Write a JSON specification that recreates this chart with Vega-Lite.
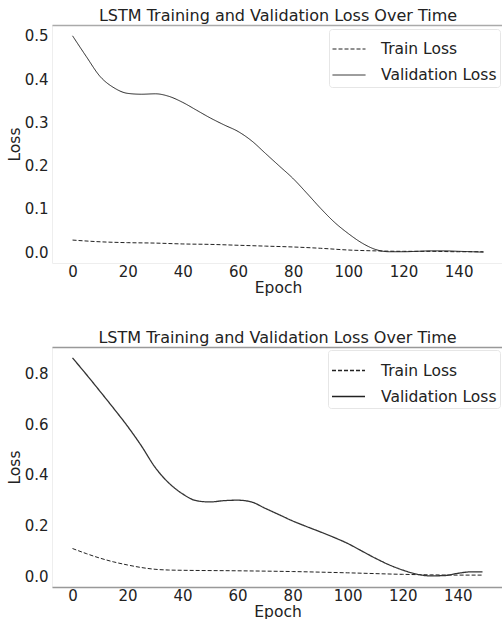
{
  "$schema": "https://vega.github.io/schema/vega-lite/v6.json",
  "padding": {"left": 6, "top": 7, "right": 0, "bottom": 0},
  "spacing": 33,
  "resolve": {"scale": {"strokeDash": "independent"}, "legend": {"strokeDash": "independent"}},
  "config": {
    "font": "DejaVu Sans",
    "view": {"stroke": "#eeeeee", "strokeWidth": 1},
    "title": {"fontSize": 16, "fontWeight": "normal", "color": "#222", "offset": 1},
    "axis": {"labelFontSize": 15, "titleFontSize": 15.5, "titleFontWeight": "normal", "labelColor": "#222", "titleColor": "#222", "grid": false, "ticks": false, "labelPadding": 4},
    "axisX": {"labelPadding": 1},
    "legend": {"labelFontSize": 15.5, "labelColor": "#222"}
  },
  "datasets": {
    "top": [
      {"series": "Validation Loss", "epoch": 0, "loss": 0.500},
      {"series": "Validation Loss", "epoch": 5, "loss": 0.452},
      {"series": "Validation Loss", "epoch": 10, "loss": 0.406},
      {"series": "Validation Loss", "epoch": 15, "loss": 0.380},
      {"series": "Validation Loss", "epoch": 20, "loss": 0.367},
      {"series": "Validation Loss", "epoch": 25, "loss": 0.365},
      {"series": "Validation Loss", "epoch": 30, "loss": 0.366},
      {"series": "Validation Loss", "epoch": 35, "loss": 0.360},
      {"series": "Validation Loss", "epoch": 40, "loss": 0.346},
      {"series": "Validation Loss", "epoch": 45, "loss": 0.328},
      {"series": "Validation Loss", "epoch": 50, "loss": 0.310},
      {"series": "Validation Loss", "epoch": 55, "loss": 0.294},
      {"series": "Validation Loss", "epoch": 60, "loss": 0.279},
      {"series": "Validation Loss", "epoch": 65, "loss": 0.257},
      {"series": "Validation Loss", "epoch": 70, "loss": 0.228},
      {"series": "Validation Loss", "epoch": 75, "loss": 0.199},
      {"series": "Validation Loss", "epoch": 80, "loss": 0.170},
      {"series": "Validation Loss", "epoch": 85, "loss": 0.136},
      {"series": "Validation Loss", "epoch": 90, "loss": 0.101},
      {"series": "Validation Loss", "epoch": 95, "loss": 0.069},
      {"series": "Validation Loss", "epoch": 100, "loss": 0.043},
      {"series": "Validation Loss", "epoch": 105, "loss": 0.021},
      {"series": "Validation Loss", "epoch": 110, "loss": 0.006},
      {"series": "Validation Loss", "epoch": 115, "loss": 0.001},
      {"series": "Validation Loss", "epoch": 120, "loss": 0.001},
      {"series": "Validation Loss", "epoch": 125, "loss": 0.002},
      {"series": "Validation Loss", "epoch": 130, "loss": 0.003},
      {"series": "Validation Loss", "epoch": 135, "loss": 0.003},
      {"series": "Validation Loss", "epoch": 140, "loss": 0.002},
      {"series": "Validation Loss", "epoch": 145, "loss": 0.001},
      {"series": "Validation Loss", "epoch": 149, "loss": 0.000},
      {"series": "Train Loss", "epoch": 0, "loss": 0.028},
      {"series": "Train Loss", "epoch": 10, "loss": 0.024},
      {"series": "Train Loss", "epoch": 20, "loss": 0.022},
      {"series": "Train Loss", "epoch": 30, "loss": 0.021},
      {"series": "Train Loss", "epoch": 40, "loss": 0.019},
      {"series": "Train Loss", "epoch": 50, "loss": 0.018},
      {"series": "Train Loss", "epoch": 60, "loss": 0.016},
      {"series": "Train Loss", "epoch": 70, "loss": 0.014},
      {"series": "Train Loss", "epoch": 80, "loss": 0.012},
      {"series": "Train Loss", "epoch": 90, "loss": 0.009},
      {"series": "Train Loss", "epoch": 100, "loss": 0.005},
      {"series": "Train Loss", "epoch": 110, "loss": 0.003},
      {"series": "Train Loss", "epoch": 120, "loss": 0.002},
      {"series": "Train Loss", "epoch": 130, "loss": 0.002},
      {"series": "Train Loss", "epoch": 140, "loss": 0.001},
      {"series": "Train Loss", "epoch": 149, "loss": 0.001}
    ],
    "bottom": [
      {"series": "Validation Loss", "epoch": 0, "loss": 0.862},
      {"series": "Validation Loss", "epoch": 5, "loss": 0.797},
      {"series": "Validation Loss", "epoch": 10, "loss": 0.730},
      {"series": "Validation Loss", "epoch": 15, "loss": 0.662},
      {"series": "Validation Loss", "epoch": 20, "loss": 0.592},
      {"series": "Validation Loss", "epoch": 25, "loss": 0.515},
      {"series": "Validation Loss", "epoch": 30, "loss": 0.430},
      {"series": "Validation Loss", "epoch": 35, "loss": 0.368},
      {"series": "Validation Loss", "epoch": 40, "loss": 0.325},
      {"series": "Validation Loss", "epoch": 45, "loss": 0.298},
      {"series": "Validation Loss", "epoch": 50, "loss": 0.293},
      {"series": "Validation Loss", "epoch": 55, "loss": 0.298},
      {"series": "Validation Loss", "epoch": 60, "loss": 0.300},
      {"series": "Validation Loss", "epoch": 65, "loss": 0.293},
      {"series": "Validation Loss", "epoch": 70, "loss": 0.268},
      {"series": "Validation Loss", "epoch": 75, "loss": 0.243},
      {"series": "Validation Loss", "epoch": 80, "loss": 0.218},
      {"series": "Validation Loss", "epoch": 85, "loss": 0.196},
      {"series": "Validation Loss", "epoch": 90, "loss": 0.175},
      {"series": "Validation Loss", "epoch": 95, "loss": 0.153},
      {"series": "Validation Loss", "epoch": 100, "loss": 0.129},
      {"series": "Validation Loss", "epoch": 105, "loss": 0.100},
      {"series": "Validation Loss", "epoch": 110, "loss": 0.071},
      {"series": "Validation Loss", "epoch": 115, "loss": 0.045},
      {"series": "Validation Loss", "epoch": 120, "loss": 0.024},
      {"series": "Validation Loss", "epoch": 125, "loss": 0.008},
      {"series": "Validation Loss", "epoch": 130, "loss": 0.001},
      {"series": "Validation Loss", "epoch": 135, "loss": 0.002},
      {"series": "Validation Loss", "epoch": 140, "loss": 0.011},
      {"series": "Validation Loss", "epoch": 145, "loss": 0.017},
      {"series": "Validation Loss", "epoch": 149, "loss": 0.017},
      {"series": "Train Loss", "epoch": 0, "loss": 0.109},
      {"series": "Train Loss", "epoch": 5, "loss": 0.089},
      {"series": "Train Loss", "epoch": 10, "loss": 0.071},
      {"series": "Train Loss", "epoch": 15, "loss": 0.056},
      {"series": "Train Loss", "epoch": 20, "loss": 0.044},
      {"series": "Train Loss", "epoch": 25, "loss": 0.034},
      {"series": "Train Loss", "epoch": 30, "loss": 0.027},
      {"series": "Train Loss", "epoch": 35, "loss": 0.024},
      {"series": "Train Loss", "epoch": 40, "loss": 0.023},
      {"series": "Train Loss", "epoch": 60, "loss": 0.021},
      {"series": "Train Loss", "epoch": 80, "loss": 0.018},
      {"series": "Train Loss", "epoch": 100, "loss": 0.013},
      {"series": "Train Loss", "epoch": 120, "loss": 0.007},
      {"series": "Train Loss", "epoch": 130, "loss": 0.005},
      {"series": "Train Loss", "epoch": 140, "loss": 0.004},
      {"series": "Train Loss", "epoch": 149, "loss": 0.004}
    ]
  },
  "vconcat": [
    {
      "title": "LSTM Training and Validation Loss Over Time",
      "width": 452,
      "height": 238,
      "data": {"name": "top"},
      "encoding": {
        "y": {"field": "loss", "type": "quantitative", "title": "Loss",
              "scale": {"domain": [-0.025, 0.525], "nice": false, "zero": false},
              "axis": {"values": [0, 0.1, 0.2, 0.3, 0.4, 0.5], "format": ".1f", "domain": false, "titlePadding": 2}},
        "strokeDash": {"field": "series", "type": "nominal",
              "scale": {"domain": ["Train Loss", "Validation Loss"], "range": [[4, 2], [1, 0]]},
              "legend": {"title": null, "orient": "top-right", "offset": 4, "symbolType": "stroke", "symbolSize": 1089, "symbolStrokeColor": "#222", "symbolStrokeWidth": 1, "strokeColor": "#e6e6e6", "fillColor": "white", "padding": 3, "cornerRadius": 3, "labelOffset": 15, "rowPadding": -1}}
      },
      "layer": [
        {
          "transform": [{"filter": "datum.series === 'Train Loss'"}],
          "mark": {"type": "line", "interpolate": "monotone", "color": "#222", "strokeWidth": 1},
          "encoding": {
            "x": {"field": "epoch", "type": "quantitative", "title": "Epoch",
                  "scale": {"domain": [-7.45, 156.45], "nice": false, "zero": false},
                  "axis": {"values": [0, 20, 40, 60, 80, 100, 120, 140], "domain": false, "titlePadding": 1}}
          }
        },
        {
          "transform": [{"filter": "datum.series === 'Validation Loss'"}],
          "mark": {"type": "line", "interpolate": "monotone", "color": "#222", "strokeWidth": 1},
          "encoding": {
            "x": {"field": "epoch", "type": "quantitative",
                  "axis": {"orient": "top", "labels": false, "ticks": false, "title": null, "domain": true, "domainColor": "#aaaaaa", "domainWidth": 1.5}}
          }
        }
      ],
      "resolve": {"axis": {"x": "independent"}}
    },
    {
      "title": "LSTM Training and Validation Loss Over Time",
      "width": 451,
      "height": 240,
      "data": {"name": "bottom"},
      "encoding": {
        "y": {"field": "loss", "type": "quantitative", "title": "Loss",
              "scale": {"domain": [-0.043, 0.905], "nice": false, "zero": false},
              "axis": {"values": [0, 0.2, 0.4, 0.6, 0.8], "format": ".1f", "domain": false, "titlePadding": 2}},
        "strokeDash": {"field": "series", "type": "nominal",
              "scale": {"domain": ["Train Loss", "Validation Loss"], "range": [[4, 2], [1, 0]]},
              "legend": {"title": null, "orient": "top-right", "offset": 3, "symbolType": "stroke", "symbolSize": 1089, "symbolStrokeColor": "#222", "symbolStrokeWidth": 1.5, "strokeColor": "#e6e6e6", "fillColor": "white", "padding": 3, "cornerRadius": 3, "labelOffset": 15, "rowPadding": -1}}
      },
      "layer": [
        {
          "transform": [{"filter": "datum.series === 'Train Loss'"}],
          "mark": {"type": "line", "interpolate": "monotone", "color": "#222", "strokeWidth": 1},
          "encoding": {
            "x": {"field": "epoch", "type": "quantitative", "title": "Epoch",
                  "scale": {"domain": [-7.45, 156.45], "nice": false, "zero": false},
                  "axis": {"values": [0, 20, 40, 60, 80, 100, 120, 140], "domain": true, "domainColor": "#999999", "domainWidth": 1.5, "titlePadding": 1}}
          }
        },
        {
          "transform": [{"filter": "datum.series === 'Validation Loss'"}],
          "mark": {"type": "line", "interpolate": "monotone", "color": "#333", "strokeWidth": 1.3},
          "encoding": {
            "x": {"field": "epoch", "type": "quantitative",
                  "axis": {"orient": "top", "labels": false, "ticks": false, "title": null, "domain": true, "domainColor": "#999999", "domainWidth": 1.5}}
          }
        }
      ],
      "resolve": {"axis": {"x": "independent"}}
    }
  ]
}
